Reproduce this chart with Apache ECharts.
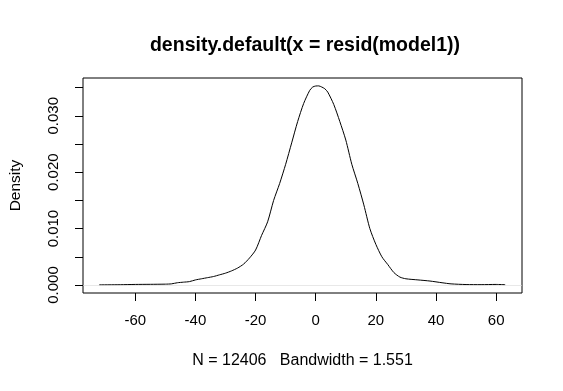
<!DOCTYPE html>
<html>
<head>
<meta charset="utf-8">
<script src="https://cdn.jsdelivr.net/npm/echarts@6/dist/echarts.min.js"></script>
<style>html,body{margin:0;padding:0;background:#fff}#c{width:563px;height:391px}</style>
</head>
<body>
<div id="c"></div>
<script>
var residValues = [-72,-65,-60,-55,-50,-48,-46,-44,-42,-40,-38,-36,-34,-32,-30,-28,-26,-24,-22,-20,-18,-16,-14,-12,-10,-8,-6,-4,-2,-1,0,1,2,3,4,6,8,10,12,14,16,18,20,22,24,26,28,30,34,38,42,45,50,55,60,63];
var densityValues = [0.00002,0.00005,0.0001,0.00012,0.00015,0.0002,0.0004,0.0005,0.0006,0.0009,0.0011,0.0013,0.0015,0.0018,0.0021,0.0025,0.0030,0.0037,0.0048,0.0062,0.0088,0.0112,0.0150,0.0180,0.0214,0.0252,0.0290,0.0322,0.0345,0.0351,0.03528,0.0353,0.0351,0.0348,0.0342,0.0320,0.0290,0.0257,0.0214,0.0180,0.0142,0.0100,0.0072,0.0050,0.0036,0.0022,0.0014,0.0011,0.0009,0.0007,0.0004,0.0002,0.00008,0.00006,0.0001,0.00005];
var xTicks = [-60,-40,-20,0,20,40,60];
var yTicks = [0,0.005,0.010,0.015,0.020,0.025,0.030,0.035];
var yLabels = [0,0.010,0.020,0.030];
var titleText = 'density.default(x = resid(model1))';
var xLabelText = 'N = 12406   Bandwidth = 1.551';
var yLabelText = 'Density';

var pts = residValues.map(function(v,i){return [v, densityValues[i]];});
var F = 'Liberation Sans, Arial, Helvetica, sans-serif';
var chart = echarts.init(document.getElementById('c'), null, {renderer:'canvas'});
chart.setOption({
  animation:false,
  title:{text:titleText,left:300,textAlign:'center',top:31,
    textStyle:{fontFamily:F,fontSize:19.5,fontWeight:'bold',color:'#000'}},
  grid:{left:78,right:41,top:78,bottom:98,show:true,borderColor:'#000',borderWidth:1,backgroundColor:'transparent'},
  xAxis:{type:'value',min:-77.4,max:68.6,
    name:xLabelText,nameLocation:'middle',nameGap:60,
    nameTextStyle:{fontFamily:F,fontSize:16,color:'#000'},
    axisLine:{show:false,onZero:false},splitLine:{show:false},
    axisTick:{show:true,inside:false,length:8,customValues:xTicks,lineStyle:{color:'#000',width:1}},
    axisLabel:{customValues:xTicks,margin:20,fontFamily:F,fontSize:15,color:'#000'}},
  yAxis:{type:'value',min:-0.00142,max:0.0367,
    name:yLabelText,nameLocation:'middle',nameGap:59,nameRotate:90,
    nameTextStyle:{fontFamily:F,fontSize:15.5,color:'#000'},
    axisLine:{show:false,onZero:false},splitLine:{show:false},
    axisTick:{show:true,inside:false,length:8,customValues:yTicks,lineStyle:{color:'#000',width:1}},
    axisLabel:{customValues:yLabels,rotate:90,margin:22,fontFamily:F,fontSize:15,color:'#000',
      formatter:function(v){return v.toFixed(3);}}},
  series:[{type:'line',data:pts,showSymbol:false,smooth:0.25,
    lineStyle:{color:'#000',width:1},
    markLine:{silent:true,symbol:['none','none'],label:{show:false},
      lineStyle:{color:'#d8d8d8',width:0.6,type:'solid'},
      data:[{yAxis:0}]}}]
});
</script>
</body>
</html>
